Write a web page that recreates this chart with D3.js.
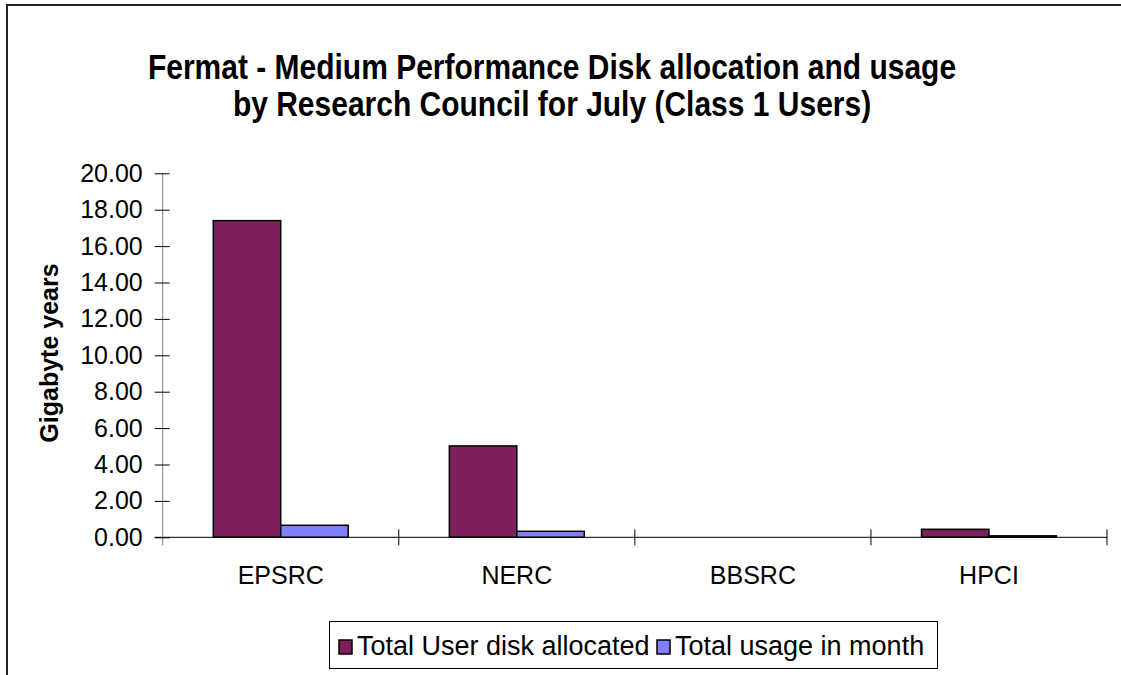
<!DOCTYPE html>
<html>
<head>
<meta charset="utf-8">
<script src="https://cdn.jsdelivr.net/npm/d3@7"></script>
<style>
  html, body { margin: 0; padding: 0; background: #fff; }
  svg { display: block; font-family: "Liberation Sans", Arial, sans-serif; }
</style>
</head>
<body>
<svg id="chart" width="1121" height="675"></svg>
<script>
const titleLines = ["Fermat - Medium Performance Disk allocation and usage",
                    "by Research Council for July (Class 1 Users)"];
const categories = ["EPSRC", "NERC", "BBSRC", "HPCI"];
const seriesNames = ["Total User disk allocated", "Total usage in month"];
const allocated = [17.4, 5.02, 0, 0.44];
const usage = [0.66, 0.33, 0, 0.08];
const yTicks = [0, 2, 4, 6, 8, 10, 12, 14, 16, 18, 20];
const colors = ["#801F5E", "#8080FF"];
const yLabel = "Gigabyte years";

const svg = d3.select("#chart");

// outer chart border (only top/left visible)
svg.append("rect").attr("x", 7).attr("y", 5).attr("width", 1200).attr("height", 800)
  .attr("fill", "none").attr("stroke", "#222").attr("stroke-width", 2);

// title (slightly stretched vertically like the reference)
svg.append("g").selectAll("text").data(titleLines).join("text")
  .attr("transform", (d, i) => `translate(552,${79 + i * 37}) scale(1,1.15)`)
  .attr("text-anchor", "middle").attr("font-weight", "bold").attr("font-size", 30)
  .attr("fill", "#000").text(d => d);

const plotLeft = 162.7, plotRight = 1107, y0 = 537.3, yTop = 173.3;
const x = d3.scaleBand().domain(categories).range([plotLeft, plotRight]).padding(0);
const y = d3.scaleLinear().domain([0, 20]).range([y0, yTop]);
const inner = d3.scaleBand().domain([0, 1]).range([0, x.bandwidth()]).paddingOuter(0.75).paddingInner(0);

// y axis
const yAxis = d3.axisLeft(y).tickValues(yTicks).tickFormat(d3.format(".2f")).tickSizeInner(8).tickSizeOuter(0).tickPadding(12);
const gy = svg.append("g").attr("transform", `translate(${plotLeft},0)`).call(yAxis);
gy.select(".domain").attr("stroke", "#808080").attr("d", `M0,${yTop}V${y0 + 8}`);
gy.selectAll(".tick line").attr("x1", 7).attr("stroke", "#000");
gy.selectAll(".tick text").attr("font-size", 25).attr("fill", "#000")
  .attr("font-family", "Liberation Sans, Arial, sans-serif");

// bars
const data = categories.map((c, i) => ({ c, vals: [allocated[i], usage[i]] }));
const groups = svg.append("g").selectAll("g").data(data).join("g")
  .attr("transform", d => `translate(${x(d.c)},0)`);
groups.selectAll("rect").data(d => d.vals.map((v, k) => ({ v, k }))).join("rect")
  .filter(d => d.v > 0)
  .attr("x", d => inner(d.k)).attr("width", inner.bandwidth())
  .attr("y", d => y(d.v)).attr("height", d => y0 - y(d.v))
  .attr("fill", d => colors[d.k]).attr("stroke", "#000").attr("stroke-width", 1.5);

// x axis
const xAxis = d3.axisBottom(x).tickSize(0).tickPadding(0);
const gx = svg.append("g").attr("transform", `translate(0,${y0})`).call(xAxis);
gx.select(".domain").attr("stroke", "#000").attr("d", `M${plotLeft - 8},0H${plotRight}`);
gx.selectAll(".tick text").attr("font-size", 25).attr("fill", "#000").attr("dy", 0).attr("y", 47)
  .attr("font-family", "Liberation Sans, Arial, sans-serif");
// boundary ticks
const bounds = categories.map(c => x(c) + x.bandwidth());
gx.append("g").selectAll("line").data(bounds).join("line")
  .attr("x1", d => d).attr("x2", d => d).attr("y1", -8).attr("y2", 8).attr("stroke", "#000");

// y label
svg.append("text").attr("transform", "translate(58,353) rotate(-90)")
  .attr("text-anchor", "middle").attr("font-weight", "bold").attr("font-size", 25)
  .attr("fill", "#000").text(yLabel);

// legend
const lg = svg.append("g");
lg.append("rect").attr("x", 329.5).attr("y", 621.5).attr("width", 608).attr("height", 47)
  .attr("fill", "#fff").attr("stroke", "#000").attr("stroke-width", 1);
const legendX = [339, 657];
const items = lg.selectAll("g.item").data(seriesNames).join("g").attr("class", "item")
  .attr("transform", (d, i) => `translate(${legendX[i]},0)`);
items.append("rect").attr("x", 0).attr("y", 640).attr("width", 13).attr("height", 14)
  .attr("fill", (d, i) => colors[i]).attr("stroke", "#000").attr("stroke-width", 1.5);
items.append("text").attr("x", 18).attr("y", 655).attr("font-size", 27).attr("fill", "#000").text(d => d);
</script>
</body>
</html>
